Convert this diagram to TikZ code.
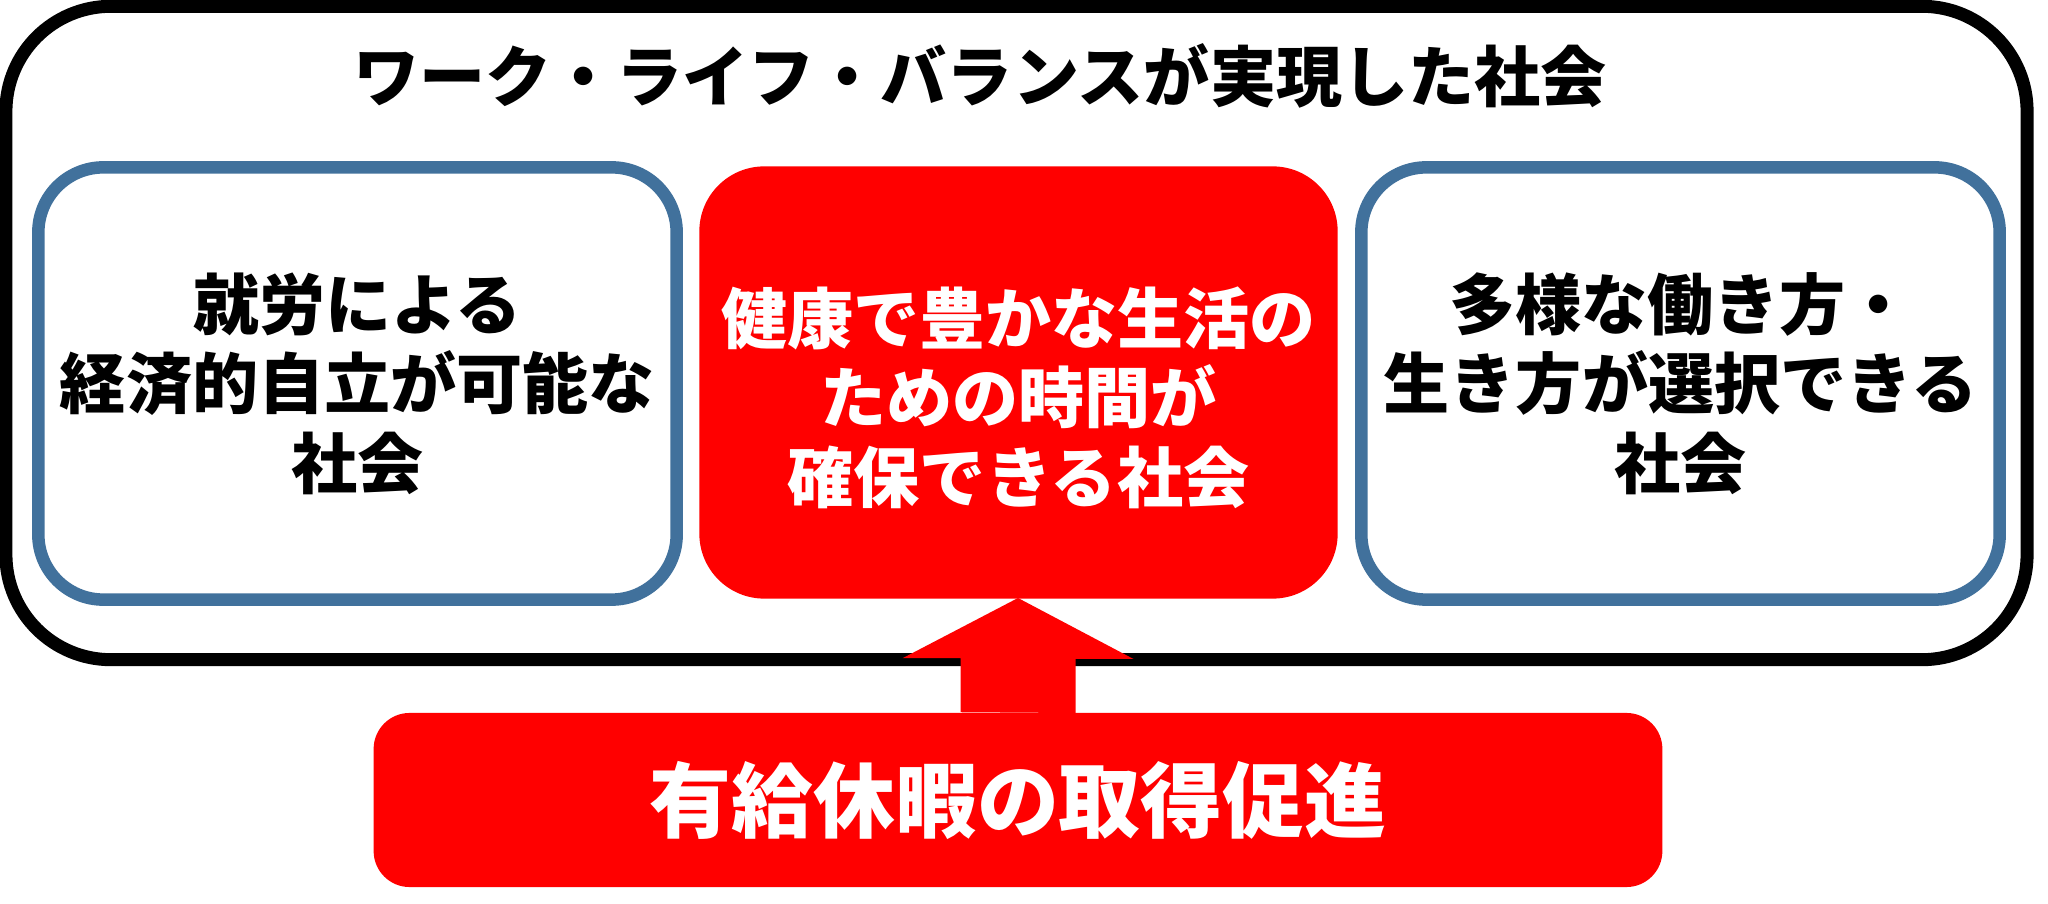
\documentclass[tikz,border=0pt]{standalone}
\usepackage{fontspec}
\newfontfamily\jpfont{Noto Sans CJK JP}
\usetikzlibrary{calc}
\definecolor{wlbred}{HTML}{FF0000}
\definecolor{wlbblue}{HTML}{41719C}

\begin{document}
\begin{tikzpicture}[
  x=0.01cm,y=-0.01cm,
  font=\jpfont\bfseries,
  frame/.style={rectangle,rounded corners=1.05cm,draw=black,line width=0.13cm,
                minimum width=20.2cm,minimum height=6.53cm},
  title/.style={font=\jpfont\bfseries\fontsize{18.8}{22}\selectfont},
  goal/.style={rectangle,rounded corners=0.65cm,draw=wlbblue,line width=0.125cm,fill=white,
               minimum width=6.38cm,minimum height=4.32cm,align=center,inner sep=0pt,
               font=\jpfont\bfseries\fontsize{18.8}{22.6}\selectfont},
  keygoal/.style={goal,draw=none,fill=wlbred},
  keytext/.style={align=center,text=white,inner sep=0pt,
                  font=\jpfont\bfseries\fontsize{18.8}{22.6}\selectfont},
  action/.style={rectangle,rounded corners=0.36cm,fill=wlbred,text=white,
                 minimum width=12.88cm,minimum height=1.74cm,
                 font=\jpfont\bfseries\fontsize{23.3}{28}\selectfont},
  push/.style={fill=wlbred,draw=none}
]
\useasboundingbox (0,0) rectangle (2048,904);

% ---- outer frame + title ----
\node[frame] (wlb) at (1016.5,333) {};
\node[title] (wlbtitle) at (980,76) {ワーク・ライフ・バランスが実現した社会};

% ---- bottom action ----
\node[action] (leave) at (1018,800) {有給休暇の取得促進};

% ---- block arrow (drawn over the frame line) ----
\fill[push] ($(leave.north)+(-57.5,0)$) -- ++(0,-54) -- ++(-58,0) -- ($(leave.north |- 0,598)$)
  -- ++(115.5,61) -- ++(-58,0) -- ++(0,54) -- cycle;

% ---- three goals ----
\node[goal] (work) at (357.5,383.5) {就労による\\経済的自立が可能な\\社会};
\node[keygoal] (life) at (1018.5,382.5) {};
\node[keytext] (lifetext) at ($(life.center)+(0,15)$) {健康で豊かな生活の\\ための時間が\\確保できる社会};
\node[goal] (style) at (1680.5,383.5) {多様な働き方・\\生き方が選択できる\\社会};

\end{tikzpicture}
\end{document}
